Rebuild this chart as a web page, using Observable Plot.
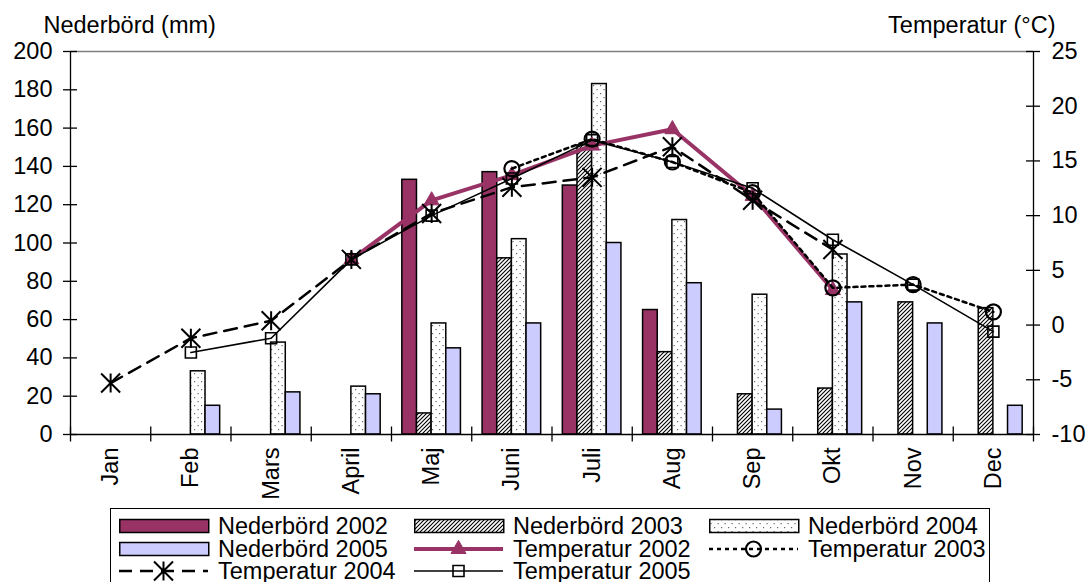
<!DOCTYPE html>
<html><head><meta charset="utf-8">
<script src="https://cdn.jsdelivr.net/npm/d3@7"></script>
<script src="https://cdn.jsdelivr.net/npm/@observablehq/plot@0.6"></script>
<style>
body{margin:0;background:#fff;font-family:"Liberation Sans",Arial,sans-serif;}
#wrap{position:relative;width:1086px;height:582px;overflow:hidden;background:#fff;}
#legend{position:absolute;left:110px;top:508px;width:880px;height:100px;border:1.5px solid #000;box-sizing:border-box;}
.li{position:absolute;height:24px;}
.li span{position:absolute;font-size:23.5px;color:#000;white-space:nowrap;line-height:20px;height:20px;top:2px;}
</style></head><body>
<svg width="0" height="0" style="position:absolute">
  <defs>
    <pattern id="hatch" patternUnits="userSpaceOnUse" width="4" height="4">
      <rect width="4" height="4" fill="#fff"/>
      <path d="M-1,1 l2,-2 M0,4 l4,-4 M3,5 l2,-2" stroke="#000" stroke-width="1.1"/>
    </pattern>
    <pattern id="dots" patternUnits="userSpaceOnUse" width="7" height="8">
      <rect width="7" height="8" fill="#fff"/>
      <rect x="1.5" y="1" width="1.2" height="1.2" fill="#666"/>
      <rect x="5" y="5" width="1.2" height="1.2" fill="#666"/>
    </pattern>
  </defs>
</svg>
<div id="wrap"></div>
<script>
const months = ["Jan","Feb","Mars","April","Maj","Juni","Juli","Aug","Sep","Okt","Nov","Dec"];
const rain2002 = [null,null,null,null,133,137,130,65,null,null,null,null];
const rain2003 = [null,null,null,null,11,92,151,43,21,24,69,66];
const rain2004 = [null,33,48,25,58,102,183,112,73,94,null,null];
const rain2005 = [null,15,22,21,45,58,100,79,13,69,58,15];
const temp2002 = [null,null,null,6.0,11.4,13.7,16.4,17.9,11.8,3.2,null,null];
const temp2003 = [null,null,null,null,null,14.3,17.0,14.9,12.1,3.4,3.7,1.2];
const temp2004 = [-5.3,-1.2,0.4,6.0,10.2,12.6,13.5,16.3,11.4,6.9,null,null];
const temp2005 = [null,-2.5,-1.2,6.0,10.0,13.4,16.9,14.9,12.5,7.8,3.7,-0.6];
const rainTicks = [0,20,40,60,80,100,120,140,160,180,200];
const tempTicks = [-10,-5,0,5,10,15,20,25];
const seriesNames = ["Nederbörd 2002","Nederbörd 2003","Nederbörd 2004","Nederbörd 2005","Temperatur 2002","Temperatur 2003","Temperatur 2004","Temperatur 2005"];

const W = 1086, H = 505, ML = 70, MR = 53, MT = 51, MB = 71;
const FS = 23.5;
const PURPLE = "#993366";
const tMin = -10, tMax = 25, rMax = 200;
const mm = t => (t - tMin) * rMax / (tMax - tMin);
const idx = months.map((m, i) => i);
const step = (W - ML - MR) / months.length;
const barW = 14.65;
const groupOff = (step - 4 * barW) / 2;

const symTri = {draw(c, s){const r=Math.sqrt(s/Math.PI); c.moveTo(0,-1.15*r); c.lineTo(r,0.6*r); c.lineTo(-r,0.6*r); c.closePath();}};
const symSq = {draw(c, s){const r=Math.sqrt(s/Math.PI); c.rect(-r,-r,2*r,2*r);}};
const symCirc = {draw(c, s){const r=Math.sqrt(s/Math.PI); c.moveTo(r,0); c.arc(0,0,r,0,2*Math.PI);}};
const symStar = {draw(c, s){const r=Math.sqrt(s/Math.PI); c.moveTo(0,-r); c.lineTo(0,r); c.moveTo(-r,-r); c.lineTo(r,r); c.moveTo(-r,r); c.lineTo(r,-r);}};

const barSeries = [
  {vals: rain2002, fill: PURPLE},
  {vals: rain2003, fill: "url(#hatch)"},
  {vals: rain2004, fill: "url(#dots)"},
  {vals: rain2005, fill: "#CCCCFF"}
];
const lineSeries = [
  {vals: temp2002, stroke: PURPLE, sw: 4, dash: null, sym: symTri, r: 7.5, fill: PURPLE, mstroke: PURPLE, msw: 1},
  {vals: temp2003, stroke: "#000", sw: 2.5, dash: "4,4", sym: symCirc, r: 7.5, fill: "none", mstroke: "#000", msw: 2.2},
  {vals: temp2004, stroke: "#000", sw: 2.5, dash: "13,8", sym: symStar, r: 9.5, fill: "none", mstroke: "#000", msw: 2},
  {vals: temp2005, stroke: "#000", sw: 1.6, dash: null, sym: symSq, r: 5.5, fill: "none", mstroke: "#000", msw: 1.6}
];

const marks = [];
barSeries.forEach((s, k) => {
  const iL = groupOff + k * barW;
  marks.push(Plot.rectY(idx.filter(i => s.vals[i] != null), {
    x1: i => i - 0.5, x2: i => i + 0.5, y1: 0, y2: i => s.vals[i],
    insetLeft: iL, insetRight: step - iL - barW,
    fill: s.fill, stroke: "#000", strokeWidth: 1.5
  }));
});
marks.push(Plot.ruleY([rMax], {x1: -0.5, x2: 11.5, stroke: "#808080", strokeWidth: 1.5}));
lineSeries.forEach(s => {
  marks.push(Plot.line(idx, {
    x: i => i, y: i => s.vals[i] == null ? NaN : mm(s.vals[i]),
    stroke: s.stroke, strokeWidth: s.sw, strokeDasharray: s.dash, strokeLinejoin: "round"
  }));
  marks.push(Plot.dot(idx.filter(i => s.vals[i] != null), {
    x: i => i, y: i => mm(s.vals[i]), symbol: s.sym, r: s.r,
    fill: s.fill, stroke: s.mstroke, strokeWidth: s.msw
  }));
});
marks.push(Plot.ruleX([-0.5, 11.5], {y1: 0, y2: rMax, stroke: "#000", strokeWidth: 1.3}));
marks.push(Plot.ruleY([0], {x1: -0.5, x2: 11.5, stroke: "#000", strokeWidth: 1.3}));
marks.push(Plot.ruleY(rainTicks, {y: d => d, x1: -0.5, x2: -0.5, insetLeft: -7, insetRight: -7, stroke: "#000", strokeWidth: 1.3}));
marks.push(Plot.ruleY(tempTicks.map(mm), {y: d => d, x1: 11.5, x2: 11.5, insetLeft: -7, insetRight: -7, stroke: "#000", strokeWidth: 1.3}));
marks.push(Plot.ruleX(d3.range(-0.5, 12, 1), {x: d => d, y1: 0, y2: 0, insetTop: -7.5, insetBottom: -7.5, stroke: "#000", strokeWidth: 1.3}));
marks.push(Plot.axisY(rainTicks, {anchor: "left", tickSize: 0, tickPadding: 18, fontSize: FS, label: null, tickFormat: d => String(d)}));
marks.push(Plot.axisY(tempTicks.map(mm), {anchor: "right", tickSize: 0, tickPadding: 18, fontSize: FS, label: null,
  tickFormat: d => String(Math.round(d * (tMax - tMin) / rMax + tMin))}));
marks.push(Plot.text(idx, {x: i => i, y: 0, text: i => months[i], rotate: -90, textAnchor: "end", dy: 13, fontSize: FS, fill: "#000"}));
marks.push(Plot.text(["Nederbörd (mm)"], {frameAnchor: "top-left", textAnchor: "start", lineAnchor: "bottom", dx: -27, dy: -19, fontSize: FS, fill: "#000"}));
marks.push(Plot.text(["Temperatur (°C)"], {frameAnchor: "top-right", textAnchor: "end", lineAnchor: "bottom", dx: 22, dy: -19, fontSize: FS, fill: "#000"}));

const chart = Plot.plot({
  width: W, height: H,
  marginLeft: ML, marginRight: MR, marginTop: MT, marginBottom: MB,
  style: {fontFamily: "'Liberation Sans', Arial, sans-serif", fontSize: FS + "px", background: "#fff", color: "#000"},
  x: {type: "linear", domain: [-0.5, 11.5], axis: null},
  y: {type: "linear", domain: [0, rMax]},
  marks
});
const wrap = document.getElementById("wrap");
wrap.appendChild(chart);

const legend = document.createElement("div");
legend.id = "legend";
wrap.appendChild(legend);
const colX = [118 - 110, 413 - 110, 708 - 110];
const textOff = 99;
const rowY = [525, 548, 570];
const swW = 89;
const items = [
  {type: "bar", fill: PURPLE},
  {type: "bar", fill: "url(#hatch)"},
  {type: "bar", fill: "url(#dots)"},
  {type: "bar", fill: "#CCCCFF"},
  {type: "line", s: lineSeries[0]},
  {type: "line", s: lineSeries[1]},
  {type: "line", s: lineSeries[2]},
  {type: "line", s: lineSeries[3]}
];
items.forEach((it, n) => {
  const col = n % 3, row = Math.floor(n / 3);
  const div = document.createElement("div");
  div.className = "li";
  div.style.left = colX[col] + "px";
  div.style.top = (rowY[row] - 508 - 12) + "px";
  const svg = d3.create("svg").attr("width", swW + 2).attr("height", 24).style("position", "absolute").style("left", "0px").style("top", "0px");
  if (it.type === "bar") {
    svg.append("rect").attr("x", 0.75).attr("y", 5.5).attr("width", swW).attr("height", 13)
      .attr("fill", it.fill).attr("stroke", "#000").attr("stroke-width", 1.5);
  } else {
    const s = it.s;
    svg.append("line").attr("x1", 0).attr("x2", swW).attr("y1", 12).attr("y2", 12)
      .attr("stroke", s.stroke).attr("stroke-width", s.sw).attr("stroke-dasharray", s.dash);
    svg.append("path").attr("transform", `translate(${swW / 2},12)`)
      .attr("d", d3.symbol(s.sym, Math.PI * s.r * s.r)())
      .attr("fill", s.fill).attr("stroke", s.mstroke).attr("stroke-width", s.msw);
  }
  div.appendChild(svg.node());
  const sp = document.createElement("span");
  sp.textContent = seriesNames[n];
  sp.style.left = textOff + "px";
  div.appendChild(sp);
  legend.appendChild(div);
});
</script>
</body></html>
